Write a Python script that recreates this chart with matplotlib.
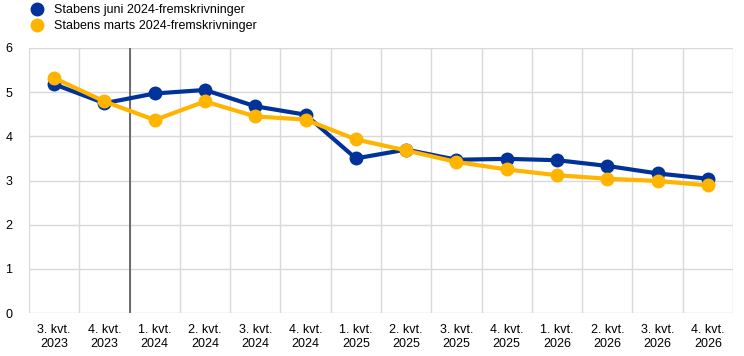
import matplotlib
matplotlib.use("Agg")
import matplotlib.pyplot as plt
from matplotlib.lines import Line2D

plt.rcParams['font.family'] = ['Liberation Sans', 'DejaVu Sans']

labels = ["3. kvt.\n2023", "4. kvt.\n2023", "1. kvt.\n2024", "2. kvt.\n2024",
          "3. kvt.\n2024", "4. kvt.\n2024", "1. kvt.\n2025", "2. kvt.\n2025",
          "3. kvt.\n2025", "4. kvt.\n2025", "1. kvt.\n2026", "2. kvt.\n2026",
          "3. kvt.\n2026", "4. kvt.\n2026"]
juni = [5.18, 4.75, 4.97, 5.05, 4.68, 4.49, 3.50, 3.70, 3.47, 3.49, 3.46, 3.33, 3.16, 3.04]
marts = [5.32, 4.79, 4.37, 4.79, 4.45, 4.38, 3.93, 3.68, 3.42, 3.25, 3.12, 3.04, 2.99, 2.89]

blue = "#003299"
yellow = "#ffb400"

fig = plt.figure(figsize=(7.44, 3.56), dpi=100)
ax = fig.add_axes([29/744, 43/356, 704/744, 265/356])

x = list(range(len(labels)))
ax.plot(x, juni, color=blue, lw=3, marker='o', ms=9, zorder=3)
ax.plot(x, marts, color=yellow, lw=3, marker='o', ms=9, zorder=4)

ax.set_xlim(-0.5, len(labels) - 0.5)
ax.set_ylim(0, 6)
ax.set_xticks(x)
ax.set_xticklabels(labels, fontsize=9)
ax.set_yticks(range(0, 7))
ax.tick_params(axis='y', labelsize=9, length=0, pad=12)
ax.tick_params(axis='x', length=0, pad=8)

# grid: horizontal at integers, vertical at category boundaries
for y in range(0, 7):
    ax.axhline(y, color='#d9d9d9', lw=1, zorder=0)
for b in range(len(labels) + 1):
    ax.axvline(b - 0.5, color='#d9d9d9', lw=1, zorder=0)
ax.axvline(1.5, color='#555555', lw=1.2, zorder=1)

for s in ax.spines.values():
    s.set_visible(False)

handles = [Line2D([], [], color=blue, marker='o', ls='', ms=9),
           Line2D([], [], color=yellow, marker='o', ls='', ms=9)]
fig.legend(handles, ["Stabens juni 2024-fremskrivninger", "Stabens marts 2024-fremskrivninger"],
           loc='upper left', bbox_to_anchor=(0.024, 1.005), frameon=False, fontsize=9,
           handletextpad=0.4, labelspacing=0.3, borderaxespad=0.1)

fig.savefig("out.png", dpi=100)
